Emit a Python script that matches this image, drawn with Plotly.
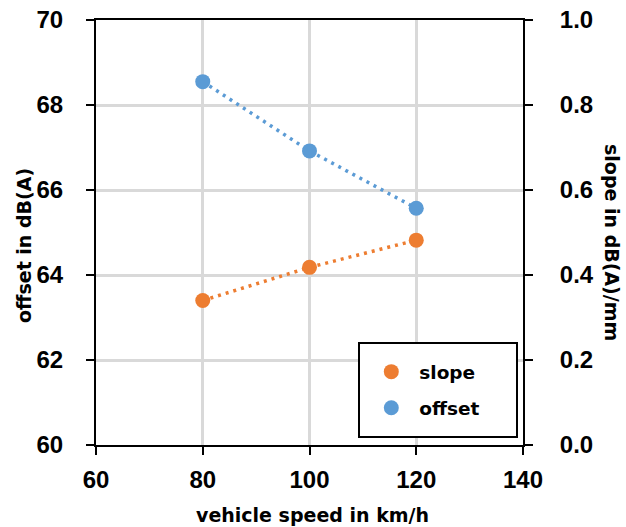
import plotly.graph_objects as go

speed = [80, 100, 120]
offset = [68.55, 66.92, 65.57]
slope = [0.34, 0.418, 0.482]

x_ticks = [60, 80, 100, 120, 140]
y_ticks = [60, 62, 64, 66, 68, 70]
y2_ticks = [0.0, 0.2, 0.4, 0.6, 0.8, 1.0]

ORANGE = '#ED7D31'
BLUE = '#5B9BD5'
tickfont = dict(family='Liberation Sans', size=24, color='black', weight='bold')
titlefont = dict(family='DejaVu Sans', size=19, color='black', weight='bold')

fig = go.Figure()
fig.add_trace(go.Scatter(x=speed, y=slope, yaxis='y2', mode='lines',
                         line=dict(color=ORANGE, width=3.5, dash='3px,5px'), showlegend=False, hoverinfo='skip'))
fig.add_trace(go.Scatter(x=speed, y=offset, mode='lines',
                         line=dict(color=BLUE, width=3.5, dash='3px,5px'), showlegend=False, hoverinfo='skip'))
fig.add_trace(go.Scatter(x=speed, y=slope, yaxis='y2', mode='markers', name='slope', legendgroup='s',
                         marker=dict(color=ORANGE, size=15)))
fig.add_trace(go.Scatter(x=speed, y=offset, mode='markers', name='offset', legendgroup='o',
                         marker=dict(color=BLUE, size=15)))

axis_common = dict(showline=True, linecolor='black', linewidth=2, ticks='outside', automargin=False,
                   tickcolor='black', tickwidth=2, ticklen=8, tickfont=tickfont, zeroline=False)

fig.update_layout(
    width=626, height=527,
    margin=dict(l=96, r=103, t=20, b=82, autoexpand=False),
    plot_bgcolor='white', paper_bgcolor='white',
    xaxis=dict(range=[60, 140], tickvals=x_ticks, ticktext=[str(v) for v in x_ticks],
               showgrid=True, gridcolor='#d9d9d9', gridwidth=2.5, mirror=True,
               ticklabelstandoff=4, **axis_common),
    yaxis=dict(range=[60, 70], tickvals=y_ticks, ticktext=[str(v) for v in y_ticks],
               showgrid=True, gridcolor='#d9d9d9', gridwidth=2.5, ticklabelstandoff=18, **axis_common),
    yaxis2=dict(range=[0, 1], tickvals=y2_ticks, ticktext=[f'{v:.1f}' for v in y2_ticks],
                overlaying='y', side='right', showgrid=False, ticklabelstandoff=22, **axis_common),
    showlegend=True,
    legend=dict(x=0.626, y=0.2162, xanchor='left', yanchor='top', bgcolor='rgba(0,0,0,0)',
                borderwidth=0, font=dict(family='DejaVu Sans', size=18.5, color='black', weight='bold'),
                traceorder='grouped', tracegroupgap=9, itemwidth=46),
    shapes=[dict(type='rect', xref='paper', yref='paper',
                 x0=(359 - 96) / 427, x1=(517 - 96) / 427, y0=(445 - 437) / 425, y1=(445 - 343) / 425,
                 line=dict(color='black', width=2), fillcolor='white', layer='above')],
    annotations=[
        dict(text='offset in dB(A)', xref='paper', yref='paper', x=(24 - 96) / 427, y=(445 - 246) / 425,
             textangle=-90, showarrow=False, font=titlefont, xanchor='center', yanchor='middle'),
        dict(text='slope in dB(A)/mm', xref='paper', yref='paper', x=(612 - 96) / 427, y=(445 - 242) / 425,
             textangle=90, showarrow=False, font=titlefont, xanchor='center', yanchor='middle'),
        dict(text='vehicle speed in km/h', xref='paper', yref='paper', x=(312 - 96) / 427, y=(445 - 515) / 425,
             showarrow=False, font=titlefont, xanchor='center', yanchor='middle'),
    ],
)
fig.write_html('out.html', config={'displayModeBar': False},
               post_script="document.body.style.margin='0';")
